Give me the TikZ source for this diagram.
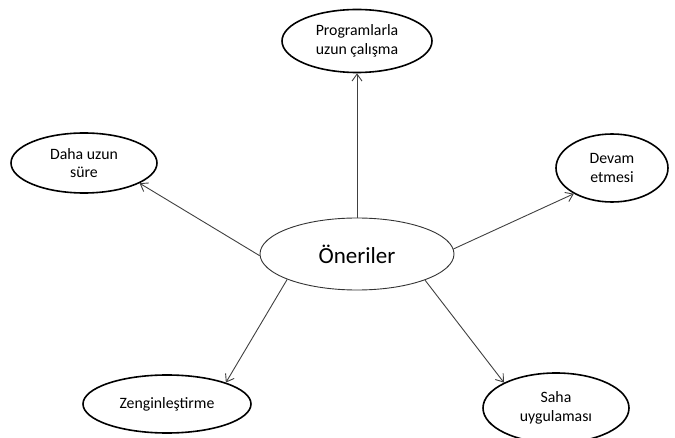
\documentclass[tikz,border=0pt]{standalone}
\usepackage{fontspec}
\setmainfont{Carlito}
\usetikzlibrary{shapes.geometric,arrows.meta}
\begin{document}
\begin{tikzpicture}[x=1pt,y=-1pt,
  idea/.style={ellipse,draw=black,line width=1.6pt,inner sep=0pt,align=center,
    font={\fontsize{15.8}{18.5}\selectfont}},
  hub/.style={ellipse,draw=black!80,line width=0.9pt,inner sep=0pt,
    font={\fontsize{23}{26}\selectfont}},
  link/.style={draw=black!75,line width=0.9pt,-{Straight Barb[length=7pt,width=10pt]}}]
  \useasboundingbox (0,0) rectangle (675,438);
  % central topic
  \node[hub,minimum width=194pt,minimum height=72pt] (o) at (357,254) {Öneriler};
  % surrounding suggestions
  \node[idea,minimum width=150pt,minimum height=63pt] (p) at (357,41) {Programlarla\\uzun çalışma};
  \node[idea,minimum width=146pt,minimum height=60pt] (d) at (84,163) {Daha uzun\\süre};
  \node[idea,minimum width=112pt,minimum height=68pt] (e) at (612,168) {Devam\\etmesi};
  \node[idea,minimum width=168pt,minimum height=58pt] (z) at (167,404) {Zenginleştirme};
  \node[idea,minimum width=146pt,minimum height=70pt] (s) at (556,408) {Saha\\uygulaması};
  % arrows from the centre outwards
  \draw[link] (o.north) -- (p.south);
  \draw[link] (o.181) -- (d.340);
  \draw[link] (o.3) -- (e.214);
  \draw[link] (o.200) -- (z.20);
  \draw[link] (o.339) -- (s.154);
\end{tikzpicture}
\end{document}
